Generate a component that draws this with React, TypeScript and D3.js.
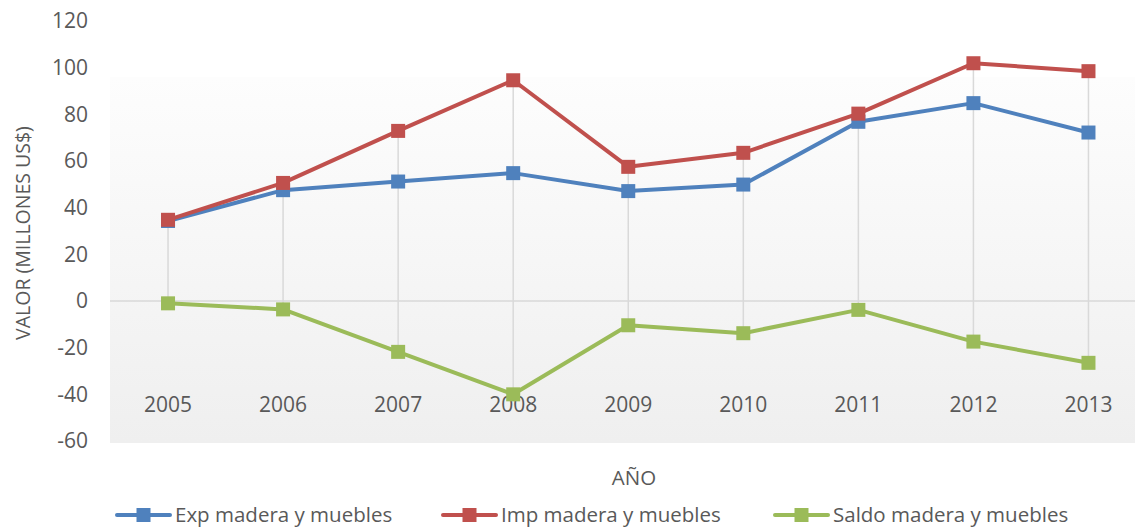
import React from "react";
import * as d3 from "d3";

const years = ["2005", "2006", "2007", "2008", "2009", "2010", "2011", "2012", "2013"];
const expValues = [34.3, 47.5, 51.2, 54.8, 47.1, 49.9, 76.8, 84.8, 72.2];
const impValues = [34.8, 50.6, 72.9, 94.6, 57.5, 63.5, 80.3, 101.9, 98.5];
const saldoValues = [-1.0, -3.6, -21.8, -40.0, -10.4, -13.8, -3.8, -17.4, -26.5];
const yTicks = [-60, -40, -20, 0, 20, 40, 60, 80, 100, 120];
const seriesNames = ["Exp madera y muebles", "Imp madera y muebles", "Saldo madera y muebles"];
const seriesColors = ["#4f81bd", "#c0504d", "#9bbb59"];

const W = 1135, H = 527;
const FONT = "'Open Sans', Lato, sans-serif";

export default function App() {
  const x = d3.scaleBand<string>().domain(years).range([110.5, 1146]);
  const y = d3.scaleLinear().domain([-60, 120]).range([441, 21]);
  const cx = (c: string) => (x(c) as number) + x.bandwidth() / 2;
  const series = [expValues, impValues, saldoValues];
  const line = d3.line<number>().x((_, i) => cx(years[i])).y((v) => y(v));
  const legendX = [117, 443, 775];
  const ms = 14;

  return (
    <svg width={W} height={H} style={{ display: "block", position: "absolute", left: 0, top: 0 }}>
      <defs>
        <linearGradient id="bg" x1="0" y1="0" x2="0" y2="1">
          <stop offset="0" stopColor="#fdfdfd" />
          <stop offset="1" stopColor="#efefef" />
        </linearGradient>
      </defs>
      <rect x={0} y={0} width={W} height={H} fill="#fff" />
      <rect x={110} y={77} width={W - 110} height={443 - 77} fill="url(#bg)" />
      {/* zero line */}
      <line x1={110} x2={W} y1={y(0)} y2={y(0)} stroke="#d9d9d9" strokeWidth={1.5} />
      {/* high-low lines */}
      {years.map((yr, i) => {
        const vals = series.map((s) => s[i]);
        return (
          <line key={yr} x1={cx(yr)} x2={cx(yr)} y1={y(d3.max(vals) as number)} y2={y(d3.min(vals) as number)}
            stroke="#d9d9d9" strokeWidth={1.5} />
        );
      })}
      {/* y ticks */}
      {yTicks.map((t) => (
        <text key={t} x={88} y={y(t)} dy="0.35em" textAnchor="end" fontFamily={FONT} fontSize={21} fill="#595959">{t}</text>
      ))}
      {/* x labels */}
      {years.map((yr) => (
        <text key={yr} x={cx(yr)} y={405} dy="0.35em" textAnchor="middle" fontFamily={FONT} fontSize={21} fill="#595959">{yr}</text>
      ))}
      {/* series */}
      {series.map((s, si) => (
        <g key={si}>
          <path d={line(s) as string} fill="none" stroke={seriesColors[si]} strokeWidth={4} strokeLinejoin="round" />
          {s.map((v, i) => (
            <rect key={i} x={cx(years[i]) - ms / 2} y={y(v) - ms / 2} width={ms} height={ms} fill={seriesColors[si]} />
          ))}
        </g>
      ))}
      {/* axis titles */}
      <text x={634} y={478} dy="0.35em" textAnchor="middle" fontFamily={FONT} fontSize={20.5} fill="#595959">AÑO</text>
      <text transform={`translate(23,${233}) rotate(-90)`} dy="0.35em" textAnchor="middle" fontFamily={FONT} fontSize={19.5} fill="#595959">VALOR (MILLONES US$)</text>
      {/* legend */}
      {seriesNames.map((n, i) => (
        <g key={n}>
          <line x1={legendX[i]} x2={legendX[i] + 53} y1={515} y2={515} stroke={seriesColors[i]} strokeWidth={4} strokeLinecap="round" />
          <rect x={legendX[i] + 26.5 - 7} y={508} width={14} height={14} fill={seriesColors[i]} />
          <text x={legendX[i] + 58} y={515} dy="0.35em" fontFamily={FONT} fontSize={20.5} fill="#595959">{n}</text>
        </g>
      ))}
    </svg>
  );
}
